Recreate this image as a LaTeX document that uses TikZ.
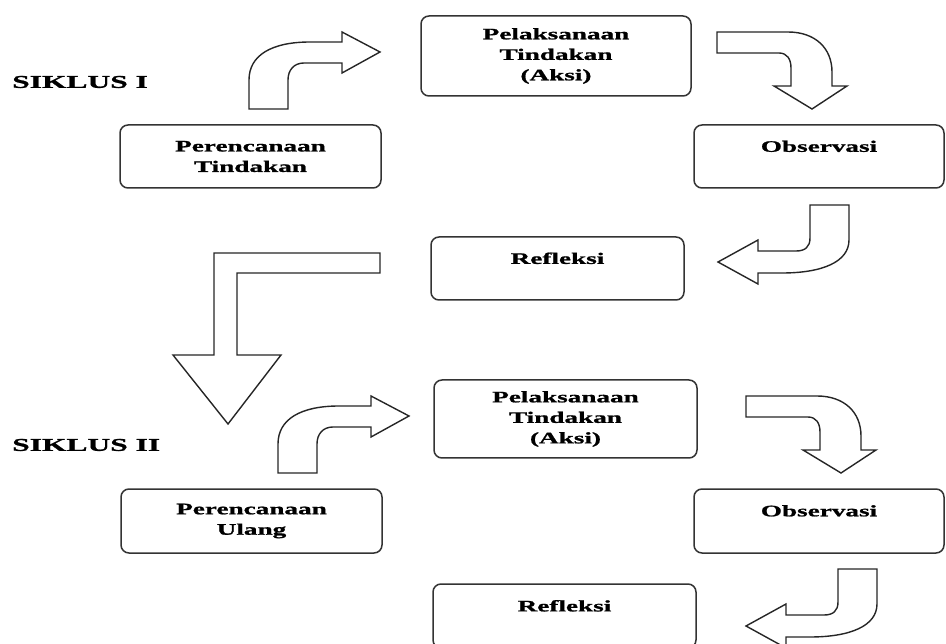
\documentclass[tikz,border=0pt]{standalone}
\usepackage{fontspec}
\newfontfamily\lblfont[FakeStretch=1.7,FakeBold=1.2]{Liberation Serif}
\newfontfamily\cycfont[FakeStretch=1.75,FakeBold=1.2]{Liberation Serif}
\begin{document}
\begin{tikzpicture}[x=1pt,y=-1pt,
  box/.style={draw=black!80, line width=1.5pt, rounded corners=8pt, fill=white,
    align=center, inner sep=0pt,
    font=\lblfont\bfseries\fontsize{16}{20.5}\selectfont},
  blk/.style={draw=black!85, line width=1.4pt, fill=white, line join=miter},
  cyc/.style={anchor=west, inner sep=0pt, font=\cycfont\bfseries\fontsize{18}{20}\selectfont}]
\useasboundingbox (0,0) rectangle (946,644);
\clip (0,0) rectangle (946,644);

% ---- Siklus I ----
\node[cyc] (s1) at (12,82) {SIKLUS I};
\node[box, minimum width=270pt, minimum height=80pt] (p1) at (556,56) {Pelaksanaan\\Tindakan\\(Aksi)};
\node[box, minimum width=261pt, minimum height=63pt] (r1) at (250.5,156.5) {Perencanaan\\Tindakan};
\node[box, minimum width=250pt, minimum height=63pt] (o1) at (819,156.5) {Observasi\\\mbox{}};
\node[box, minimum width=253pt, minimum height=63pt] (f1) at (557.5,268.5) {Refleksi\\\mbox{}};

% ---- Siklus II ----
\node[cyc] (s2) at (12,445) {SIKLUS II};
\node[box, minimum width=263pt, minimum height=78pt] (p2) at (565.5,419) {Pelaksanaan\\Tindakan\\(Aksi)};
\node[box, minimum width=261pt, minimum height=64pt] (r2) at (251.5,521) {Perencanaan\\Ulang};
\node[box, minimum width=250pt, minimum height=64pt] (o2) at (819,521) {Observasi\\\mbox{}};
\node[box, minimum width=263pt, minimum height=64pt] (f2) at (564.5,616) {Refleksi\\\mbox{}};

% ---- block arrows, cycle I ----
\draw[blk] (249,109) -- (249,80) .. controls (249,55) and (272,42) .. (310,42) -- (342,42) -- (342,32) -- (380,52) -- (342,73) -- (342,63) -- (304,63) .. controls (294,63) and (288,70) .. (288,80) -- (288,109) -- cycle;
\draw[blk] (717,32) -- (788,32) .. controls (815,32) and (832,48) .. (832,72) -- (832,86) -- (847,86) -- (812,109) -- (774,86) -- (791,86) -- (791,68) .. controls (791,59) and (787,53) .. (779,53) -- (717,53) -- cycle;
\draw[blk] (810,205) -- (849,205) -- (849,240) .. controls (849,262) and (822,273) .. (782,273) -- (758,273) -- (758,284) -- (718,262) -- (758,240) -- (758,251) -- (796,251) .. controls (805,251) and (810,247) .. (810,238) -- cycle;

% ---- big transition arrow ----
\draw[blk] (380,253) -- (214,253) -- (214,355) -- (173,355) -- (228,424) -- (281,355) -- (237,355) -- (237,273) -- (380,273) -- cycle;

% ---- block arrows, cycle II ----
\begin{scope}[shift={(29,364)}]
\draw[blk] (249,109) -- (249,80) .. controls (249,55) and (272,42) .. (310,42) -- (342,42) -- (342,32) -- (380,52) -- (342,73) -- (342,63) -- (304,63) .. controls (294,63) and (288,70) .. (288,80) -- (288,109) -- cycle;
\draw[blk] (717,32) -- (788,32) .. controls (815,32) and (832,48) .. (832,72) -- (832,86) -- (847,86) -- (812,109) -- (774,86) -- (791,86) -- (791,68) .. controls (791,59) and (787,53) .. (779,53) -- (717,53) -- cycle;
\end{scope}
\begin{scope}[shift={(28,364)}]
\draw[blk] (810,205) -- (849,205) -- (849,240) .. controls (849,262) and (822,273) .. (782,273) -- (758,273) -- (758,284) -- (718,262) -- (758,240) -- (758,251) -- (796,251) .. controls (805,251) and (810,247) .. (810,238) -- cycle;
\end{scope}
\end{tikzpicture}
\end{document}
